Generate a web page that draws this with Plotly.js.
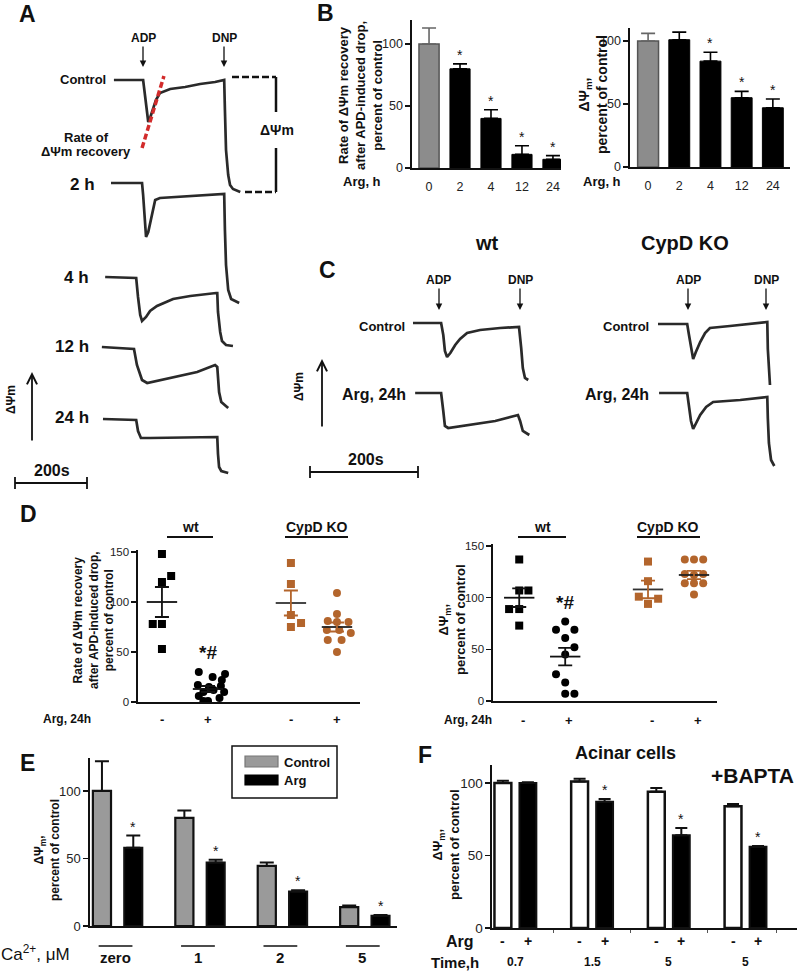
<!DOCTYPE html>
<html><head><meta charset="utf-8">
<script src="https://cdn.plot.ly/plotly-3.0.1.min.js"></script>
<style>html,body{margin:0;padding:0;background:#fff}#chart{width:800px;height:972px}</style>
</head><body><div id="chart"></div>
<script>
// ================= DATA =================
// Panel A: ΔΨm traces, time (s) and signal (arb. units, relative to starting level)
const aCtrlT=[38,118,123,129,132,137,145,153,164,192,233,274,315,337,340,342,345,351,356,364,384];
const aCtrlV=[0,0,-15,-35,-42,-38,-28,-20,-13,-9,-7,-4,-2,0,0,-30,-70,-95,-105,-109,-112];
const a2hT=[30,115,118,121,126,132,140,145,151,164,205,274,337,340,342,345,351,359,381];
const a2hV=[0,0,-12,-32,-54,-49,-35,-24,-17,-15,-14,-12,-11,-11,-47,-82,-107,-116,-120];
const a4hT=[14,99,104,110,115,126,137,156,200,247,318,321,323,329,334,345,364];
const a4hV=[0,-1,-20,-38,-44,-40,-34,-29,-22,-19,-16,-16,-35,-55,-64,-68,-69];
const a12hT=[5,93,101,115,129,200,266,315,321,326,332,351];
const a12hV=[0,-2,-18,-33,-36,-30,-25,-18,-20,-45,-55,-61];
const a24hT=[8,99,104,112,137,321,323,326,332,351];
const a24hV=[0,-1,-12,-19,-19,-18,-35,-48,-52,-54];

// Panel B
const bArg=['0','2','4','12','24'];
const bRate=[100,80,40,11,7];
const bRateErr=[13,4,7,7,3];
const bRateSig=[false,true,true,true,true];
const bPsi=[100,101,84,55,47];
const bPsiErr=[6,6,7,5,7];
const bPsiSig=[false,false,true,true,true];

// Panel C: traces, time (s) and signal (arb. units)
const cWtCtrlT=[24,76,80,83,87,93,102,111,124,148,185,218,220,224,227,231,237];
const cWtCtrlV=[0,0,-12,-28,-34,-30,-22,-16,-10,-7,-5,-4,-4,-25,-45,-55,-57];
const cWtArgT=[28,76,80,83,89,130,176,218,222,227,239];
const cWtArgV=[0,0,-18,-33,-35,-32,-28,-22,-28,-38,-42];
const cKoCtrlT=[24,78,81,85,89,94,102,111,120,157,224,226,227,229,231];
const cKoCtrlV=[0,0,-10,-25,-35,-28,-18,-9,-4,-2,2,2,-25,-45,-61];
const cKoArgT=[26,78,81,85,89,94,102,113,126,176,224,226,227,229,233,239];
const cKoArgV=[0,0,-12,-28,-36,-30,-22,-14,-9,-7,-4,-4,-25,-50,-67,-73];

// Panel D (left: rate of recovery; right: ΔΨm), groups: wt -, wt +, KO -, KO +
const dGroups=['wt -','wt +','CypD KO -','CypD KO +'];
const dArgSign=['-','+','-','+'];
const dRateWtCtrl=[148,126,120,78,78,53];
const dRateWtArg=[30,28,25,22,17,15,16,12,10,10,6,4,1,1];
const dRateKoCtrl=[139,118,87,79,75];
const dRateKoArg=[109,88,81,80,80,72,72,69,62,62,50];
const dRateMean=[100,13,99,75];
const dRateSem=[15,3,12.5,4.5];
const dPsiWtCtrl=[137,107,107,89,89,73];
const dPsiWtArg=[77,69,69,61,52,45,26,18,7,7];
const dPsiKoCtrl=[135,116,101,99,94];
const dPsiKoArg=[137,137,137,123,122,123,114,114,114,103];
const dPsiMean=[100,43,108,122];
const dPsiSem=[9,8.5,8.5,4];

// Panel E
const eCa=['zero','1','2','5'];
const eCtrl=[100,80,44.5,14];
const eCtrlErr=[22,5.5,2.5,1.2];
const eArg=[58,47,25.5,7.5];
const eArgErr=[9,2,1,0.7];

// Panel F
const fTime=['0.7','1.5','5','5'];
const fCtrl=[100,101,94,84];
const fCtrlErr=[1.5,2,2.5,1.5];
const fArg=[100,87,64,56];
const fArgErr=[0.5,2,5,0.5];
const fSig=[false,true,true,true];

// ================= LAYOUT CONSTANTS =================
const W=800,H=972;
const fx=p=>p/W, fy=p=>1-p/H;
const FONT='Liberation Sans, Arial, Helvetica, sans-serif';
const INK='#111';
const TRACE='#2a2a2a';
const BROWN='#b3652c';
const aRows={ctrl:80,h2:183,h4:277,h12:347,h24:419};
const cRows={wtCtrl:323,wtArg:393,koCtrl:324,koArg:393};
const gPos=[1,2,3.8,4.8];
const jRateWtCtrl=[0,0.2,0,-0.2,0,0];
const jRateWtArg=[-0.2,0.37,0.1,0.3,-0.22,0.02,0.28,0.12,-0.1,0.35,-0.2,0.25,0,-0.1];
const jRateKoCtrl=[0,0,0,0.22,0];
const jRateKoArg=[0,0,-0.2,0,0.25,-0.22,0.05,0.3,-0.2,0.1,0];
const jPsiWtCtrl=[0,0,0.2,-0.22,0,0];
const jPsiWtArg=[0,-0.2,0.2,0,0.2,0,-0.2,0,0,0.2];
const jPsiKoCtrl=[0,0,-0.2,0.22,0];
const jPsiKoArg=[-0.2,0,0.2,-0.2,0,0.2,-0.2,0,0.2,0];
const eW=0.22, eOffC=-0.30, eOffA=0.08;
const fW=0.22, fOffC=-0.274, fOffA=0.052;

const traces=[], ann=[], shapes=[];

function font(size){ return {family:FONT,size:size,color:INK}; }
function T(text,x,y,size,extra){
  ann.push(Object.assign({text:text,x:fx(x),y:fy(y),xref:'paper',yref:'paper',showarrow:false,
    font:font(size),xanchor:'center',yanchor:'middle'},extra||{}));
}
function A(text,x,y,xref,yref,size,extra){
  ann.push(Object.assign({text:text,x:x,y:y,xref:xref,yref:yref,showarrow:false,
    font:font(size),xanchor:'center',yanchor:'middle'},extra||{}));
}
function L(x0,y0,x1,y1,w,dash,color){
  shapes.push({type:'line',xref:'paper',yref:'paper',x0:fx(x0),y0:fy(y0),x1:fx(x1),y1:fy(y1),
    line:{color:color||INK,width:w||1.5,dash:dash||'solid'}});
}
function arrowLabel(text,x,tipY,textY,size){
  ann.push({text:text,x:fx(x),y:fy(tipY),xref:'paper',yref:'paper',showarrow:true,ax:0,ay:-(tipY-textY),
    arrowhead:2,arrowsize:1,arrowwidth:1.3,arrowcolor:INK,standoff:0,font:font(size)});
}
function upArrow(x,yTip,yTail){
  ann.push({text:'',x:fx(x),y:fy(yTip),xref:'paper',yref:'paper',showarrow:true,ax:0,ay:(yTail-yTip),
    arrowhead:5,arrowsize:1.1,arrowwidth:1.8,arrowcolor:INK,standoff:0});
}
function sig(t,v,base,xa,ya){
  traces.push({type:'scatter',mode:'lines',x:t,y:v.map(d=>d-base),xaxis:xa,yaxis:ya,
    line:{color:TRACE,width:2.7},hoverinfo:'skip'});
}
function scaleBar(x0,x1,y){ L(x0,y,x1,y,1.8); L(x0,y-6,x0,y+6,1.8); L(x1,y-6,x1,y+6,1.8); }

// ================= PANEL A =================
sig(aCtrlT,aCtrlV,aRows.ctrl,'x','y');
sig(a2hT,a2hV,aRows.h2,'x','y');
sig(a4hT,a4hV,aRows.h4,'x','y');
sig(a12hT,a12hV,aRows.h12,'x','y');
sig(a24hT,a24hV,aRows.h24,'x','y');
shapes.push({type:'line',xref:'x',yref:'y',x0:115,y0:-148,x1:175,y1:-76,line:{color:'#d22b2b',width:3.5,dash:'6px,3px'}});
T('<b>A</b>',27,14,23);
arrowLabel('<b>ADP</b>',143,67,38,12);
arrowLabel('<b>DNP</b>',224,67,38,12);
T('<b>Control</b>',108,80,13,{xanchor:'right'});
T('<b>Rate of</b>',86,137,13);
T('<b>ΔΨm recovery</b>',86,152,13);
L(232,77,276,77,2.5,'7px,3px'); L(276,77,276,112,2.5); L(276,148,276,192,2.5); L(245,192,276,192,2.5,'7px,3px');
T('<b>ΔΨm</b>',277,130,14);
T('<b>2 h</b>',97,184,17,{xanchor:'right'});
T('<b>4 h</b>',91,277,17,{xanchor:'right'});
T('<b>12 h</b>',91,347,17,{xanchor:'right'});
T('<b>24 h</b>',91,417,17,{xanchor:'right'});
upArrow(32,372,442);
T('<b>ΔΨm</b>',11,400,12,{textangle:-90});
scaleBar(15,87,483);
T('<b>200s</b>',52,471,16);

// ================= PANEL B =================
traces.push({type:'bar',x:[bArg[0]],y:[bRate[0]],xaxis:'x2',yaxis:'y2',width:0.65,
  marker:{color:'#8c8c8c',line:{color:'#555',width:1.5}},
  error_y:{type:'data',symmetric:false,array:[bRateErr[0]],arrayminus:[0],color:'#666',thickness:1.6,width:7}});
traces.push({type:'bar',x:bArg.slice(1),y:bRate.slice(1),xaxis:'x2',yaxis:'y2',width:0.65,
  marker:{color:'#000',line:{color:'#000',width:1}},
  error_y:{type:'data',symmetric:false,array:bRateErr.slice(1),arrayminus:bRate.slice(1).map(()=>0),color:'#000',thickness:1.6,width:7}});
traces.push({type:'bar',x:[bArg[0]],y:[bPsi[0]],xaxis:'x3',yaxis:'y3',width:0.67,
  marker:{color:'#8c8c8c',line:{color:'#555',width:1.5}},
  error_y:{type:'data',symmetric:false,array:[bPsiErr[0]],arrayminus:[0],color:'#666',thickness:1.6,width:7}});
traces.push({type:'bar',x:bArg.slice(1),y:bPsi.slice(1),xaxis:'x3',yaxis:'y3',width:0.67,
  marker:{color:'#000',line:{color:'#000',width:1}},
  error_y:{type:'data',symmetric:false,array:bPsiErr.slice(1),arrayminus:bPsi.slice(1).map(()=>0),color:'#000',thickness:1.6,width:7}});
bArg.forEach((c,i)=>{
  if(bRateSig[i]) A('*',i,bRate[i]+bRateErr[i],'x2','y2',14,{yshift:9});
  if(bPsiSig[i]) A('*',i,bPsi[i]+bPsiErr[i],'x3','y3',14,{yshift:9});
});
T('<b>B</b>',325,13,23);
T('<b>Rate of ΔΨm recovery<br>after APD-induced drop,<br>percent of control</b>',360,96,13,{textangle:-90});
T('<b>ΔΨ<sub>m</sub>,<br>percent of control</b>',593,95,14,{textangle:-90});
T('<b>Arg, h</b>',362,182,13);
T('<b>Arg, h</b>',602,182,13);

// ================= PANEL C =================
sig(cWtCtrlT,cWtCtrlV,cRows.wtCtrl,'x4','y4');
sig(cWtArgT,cWtArgV,cRows.wtArg,'x4','y4');
sig(cKoCtrlT,cKoCtrlV,cRows.koCtrl,'x5','y4');
sig(cKoArgT,cKoArgV,cRows.koArg,'x5','y4');
T('<b>wt</b>',487,243,20);
T('<b>CypD KO</b>',685,243,20);
T('<b>C</b>',327,270,23);
arrowLabel('<b>ADP</b>',439,310,280,12);
arrowLabel('<b>DNP</b>',520,310,280,12);
arrowLabel('<b>ADP</b>',688,310,280,12);
arrowLabel('<b>DNP</b>',766,310,280,12);
T('<b>Control</b>',407,327,13,{xanchor:'right'});
T('<b>Arg, 24h</b>',408,395,16,{xanchor:'right'});
T('<b>Control</b>',651,327,13,{xanchor:'right'});
T('<b>Arg, 24h</b>',651,395,16,{xanchor:'right'});
upArrow(322,359,428);
T('<b>ΔΨm</b>',299,387,12,{textangle:-90});
scaleBar(310,418,472);
T('<b>200s</b>',366,460,16);

// ================= PANEL D =================
function dots(vals,jit,gi,symbol,color,xa,ya){
  traces.push({type:'scatter',mode:'markers',x:vals.map((_,k)=>gPos[gi]+jit[k]),y:vals,xaxis:xa,yaxis:ya,
    marker:{symbol:symbol,size:8,color:color},hoverinfo:'skip'});
}
function meanSem(mean,sem,gi,lineColor,semColor,xa,ya){
  traces.push({type:'scatter',mode:'lines',x:[gPos[gi]-0.33,gPos[gi]+0.33],y:[mean,mean],xaxis:xa,yaxis:ya,
    line:{color:lineColor,width:1.8},hoverinfo:'skip'});
  traces.push({type:'scatter',mode:'markers',x:[gPos[gi]],y:[mean],xaxis:xa,yaxis:ya,
    marker:{size:1,color:'rgba(0,0,0,0)'},error_y:{type:'data',array:[sem],color:semColor,thickness:1.8,width:7},hoverinfo:'skip'});
}
dots(dRateWtCtrl,jRateWtCtrl,0,'square','#000','x6','y6');
dots(dRateWtArg,jRateWtArg,1,'circle','#000','x6','y6');
dots(dRateKoCtrl,jRateKoCtrl,2,'square',BROWN,'x6','y6');
dots(dRateKoArg,jRateKoArg,3,'circle',BROWN,'x6','y6');
meanSem(dRateMean[0],dRateSem[0],0,INK,INK,'x6','y6');
meanSem(dRateMean[1],dRateSem[1],1,INK,INK,'x6','y6');
meanSem(dRateMean[2],dRateSem[2],2,'#333',BROWN,'x6','y6');
meanSem(dRateMean[3],dRateSem[3],3,'#222',BROWN,'x6','y6');
dots(dPsiWtCtrl,jPsiWtCtrl,0,'square','#000','x7','y7');
dots(dPsiWtArg,jPsiWtArg,1,'circle','#000','x7','y7');
dots(dPsiKoCtrl,jPsiKoCtrl,2,'square',BROWN,'x7','y7');
dots(dPsiKoArg,jPsiKoArg,3,'circle',BROWN,'x7','y7');
meanSem(dPsiMean[0],dPsiSem[0],0,INK,INK,'x7','y7');
meanSem(dPsiMean[1],dPsiSem[1],1,INK,INK,'x7','y7');
meanSem(dPsiMean[2],dPsiSem[2],2,'#333',BROWN,'x7','y7');
meanSem(dPsiMean[3],dPsiSem[3],3,'#222',BROWN,'x7','y7');
T('<b>D</b>',28,514,23);
T('<b>Rate of ΔΨm recovery<br>after APD-induced drop,<br>percent of control</b>',93,620,12,{textangle:-90});
T('<b>ΔΨ<sub>m</sub>,<br>percent of control</b>',452,619,13,{textangle:-90});
T('<b>wt</b>',190,527,14); L(167,537,213,537,1.8);
T('<b>CypD KO</b>',317,527,14); L(285,537,348,537,1.8);
T('<b>wt</b>',542,527,14); L(518,537,566,537,1.8);
T('<b>CypD KO</b>',668,527,14); L(637,537,700,537,1.8);
A('<b>*#</b>',gPos[1],dRateMean[1]+37,'x6','y6',19);
A('<b>*#</b>',gPos[1],dPsiMean[1]+52,'x7','y7',19);
T('<b>Arg, 24h</b>',67,719,12);
T('<b>Arg, 24h</b>',468,720,12);
dArgSign.forEach((s,i)=>{
  A('<b>'+s+'</b>',gPos[i],fy(719),'x6','paper',13);
  A('<b>'+s+'</b>',gPos[i]+0.08,fy(720),'x7','paper',13);
});

// ================= PANEL E =================
const eX=eCa.map((_,i)=>i);
traces.push({type:'bar',x:eX,y:eCtrl,xaxis:'x8',yaxis:'y8',width:eW,offset:eOffC,
  marker:{color:'#9a9a9a',line:{color:INK,width:2.2}},
  error_y:{type:'data',symmetric:false,array:eCtrlErr,arrayminus:eCtrl.map(()=>0),color:INK,thickness:2,width:7}});
traces.push({type:'bar',x:eX,y:eArg,xaxis:'x8',yaxis:'y8',width:eW,offset:eOffA,
  marker:{color:'#000',line:{color:INK,width:2}},
  error_y:{type:'data',symmetric:false,array:eArgErr,arrayminus:eArg.map(()=>0),color:INK,thickness:2,width:7}});
eCa.forEach((c,i)=>{
  A('*',i+eOffA+eW/2,eArg[i]+eArgErr[i],'x8','y8',14,{yshift:9});
  A('<b>'+c+'</b>',i-0.03,fy(957),'x8','paper',15);
  shapes.push({type:'line',xref:'x8',yref:'paper',x0:i-0.23,x1:i+0.18,y0:fy(946),y1:fy(946),line:{color:INK,width:1.6}});
});
T('<b>E</b>',27,763,23);
T('<b>ΔΨ<sub>m</sub>,<br>percent of control</b>',47,850,12,{textangle:-90});
T('Ca<sup>2+</sup>, μM',35,953,17);
shapes.push({type:'rect',xref:'paper',yref:'paper',x0:fx(232),x1:fx(337),y0:fy(798),y1:fy(746),line:{color:INK,width:1.5},fillcolor:'#fff'});
shapes.push({type:'rect',xref:'paper',yref:'paper',x0:fx(245),x1:fx(278),y0:fy(767),y1:fy(756),line:{color:'#777',width:1.2},fillcolor:'#9a9a9a'});
shapes.push({type:'rect',xref:'paper',yref:'paper',x0:fx(245),x1:fx(278),y0:fy(785),y1:fy(775),line:{color:'#000',width:1.2},fillcolor:'#000'});
T('<b>Control</b>',282,762,13,{xanchor:'left'});
T('<b>Arg</b>',282,780,13,{xanchor:'left'});

// ================= PANEL F =================
const fX=fTime.map((_,i)=>i);
traces.push({type:'bar',x:fX,y:fCtrl,xaxis:'x9',yaxis:'y9',width:fW,offset:fOffC,
  marker:{color:'#fff',line:{color:INK,width:2.5}},
  error_y:{type:'data',symmetric:false,array:fCtrlErr,arrayminus:fCtrl.map(()=>0),color:INK,thickness:2,width:6}});
traces.push({type:'bar',x:fX,y:fArg,xaxis:'x9',yaxis:'y9',width:fW,offset:fOffA,
  marker:{color:'#000',line:{color:INK,width:2}},
  error_y:{type:'data',symmetric:false,array:fArgErr,arrayminus:fArg.map(()=>0),color:INK,thickness:2,width:6}});
fTime.forEach((t,i)=>{
  if(fSig[i]) A('*',i+fOffA+fW/2,fArg[i]+fArgErr[i],'x9','y9',14,{yshift:9});
  A('<b>-</b>',i+fOffC+fW/2,fy(941),'x9','paper',14);
  A('<b>+</b>',i+fOffA+fW/2,fy(941),'x9','paper',14);
  A('<b>'+t+'</b>',i,fy(962),'x9','paper',12);
});
T('<b>F</b>',425,755,23);
T('<b>Acinar cells</b>',625,753,18);
T('<b>+BAPTA</b>',752,775,21);
T('<b>ΔΨ<sub>m</sub>,<br>percent of control</b>',446,845,13,{textangle:-90});
T('<b>Arg</b>',460,941,16);
T('<b>Time,h</b>',455,962,15);

// ================= AXES =================
const hidden={visible:false,fixedrange:true,showgrid:false,zeroline:false};
function xAx(d0,d1,range,anchor,extra){
  return Object.assign({domain:[fx(d0),fx(d1)],range:range,anchor:anchor,showline:true,linecolor:INK,linewidth:1.6,
    ticks:'',showticklabels:false,showgrid:false,zeroline:false,fixedrange:true},extra||{});
}
function yAx(top,bottom,range,anchor,tickvals,fsize,extra){
  return Object.assign({domain:[fy(bottom),fy(top)],range:range,anchor:anchor,showline:true,linecolor:INK,linewidth:1.6,
    ticks:'outside',ticklen:5,tickwidth:1.3,tickcolor:INK,tickvals:tickvals,
    tickfont:{family:FONT,size:fsize,color:'#222'},showgrid:false,zeroline:false,fixedrange:true},extra||{});
}
const layout={
  width:W,height:972,margin:{l:0,r:0,t:0,b:0},paper_bgcolor:'#fff',plot_bgcolor:'rgba(0,0,0,0)',
  showlegend:false,barmode:'overlay',
  xaxis:Object.assign({domain:[fx(0),fx(310)],range:[-274,575],anchor:'y'},hidden),
  yaxis:Object.assign({domain:[fy(500),fy(0)],range:[-500,0],anchor:'x'},hidden),
  xaxis2:xAx(412,561,[-0.55,4.26],'y2',{type:'category',categoryarray:bArg,showticklabels:true,ticklabelstandoff:6,tickfont:{family:FONT,size:12.5,color:'#222'}}),
  yaxis2:yAx(20,168,[0,119.4],'x2',[0,50,100],12.5),
  xaxis3:xAx(630,790,[-0.58,4.55],'y3',{type:'category',categoryarray:bArg,showticklabels:true,ticklabelstandoff:6,tickfont:{family:FONT,size:12.5,color:'#222'}}),
  yaxis3:yAx(28,167,[0,110.3],'x3',[0,50,100],12.5),
  xaxis4:Object.assign({domain:[fx(400),fx(545)],range:[0,268],anchor:'y4'},hidden),
  xaxis5:Object.assign({domain:[fx(645),fx(790)],range:[0,268],anchor:'y4'},hidden),
  yaxis4:Object.assign({domain:[fy(480),fy(300)],range:[-480,-300],anchor:'x4'},hidden),
  xaxis6:xAx(138,360,[0.48,5.3],'y6'),
  yaxis6:yAx(550,702,[0,152],'x6',[0,50,100,150],11.5),
  xaxis7:xAx(493,717,[0.43,5.3],'y7'),
  yaxis7:yAx(544,701,[0,152],'x7',[0,50,100,150],11.5),
  xaxis8:xAx(90,397,[-0.335,3.39],'y8'),
  yaxis8:yAx(758,926,[0,124.4],'x8',[0,50,100],13),
  xaxis9:xAx(492,797,[-0.306,3.67],'y9',{ticks:'outside',ticklen:3,tickwidth:1,tickcolor:'#555',tickvals:[0.5,1.5,2.5,3.4]}),
  yaxis9:yAx(765,928,[0,112.4],'x9',[0,50,100],13.5),
  annotations:ann,shapes:shapes
};
Plotly.newPlot('chart',traces,layout,{staticPlot:true,displayModeBar:false});
</script>
</body></html>
